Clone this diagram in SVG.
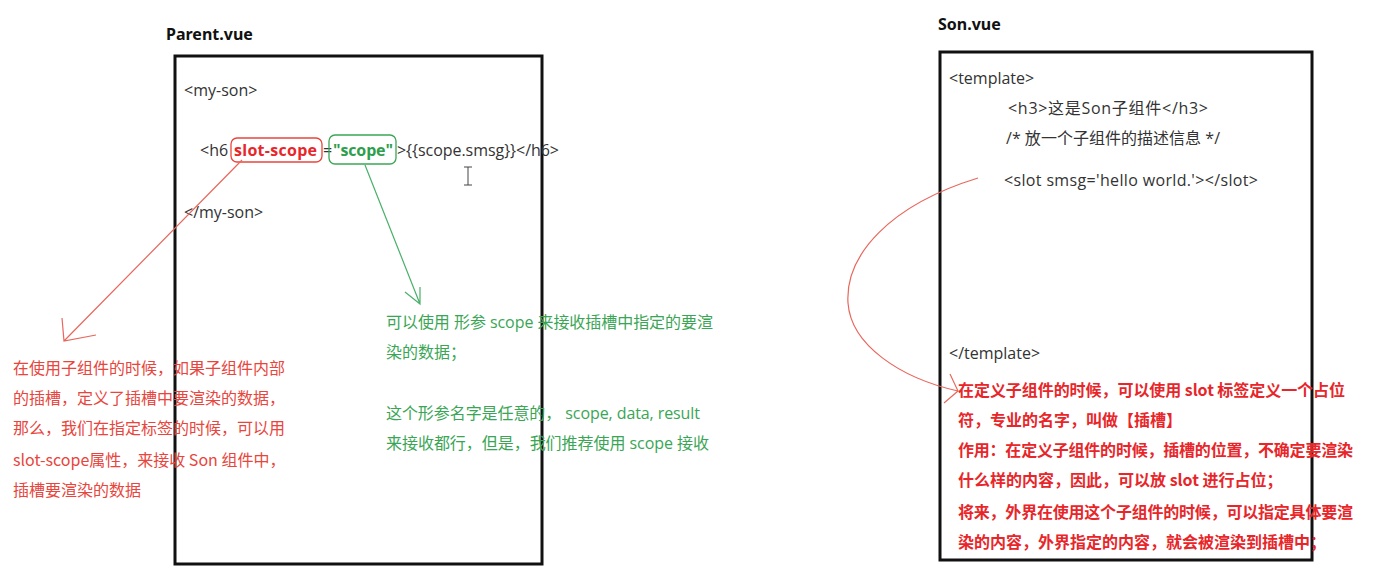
<svg xmlns="http://www.w3.org/2000/svg" width="1374" height="574" viewBox="0 0 1374 574">
<style>
.t{font-family:"Open Sans","Noto Sans","Noto Sans CJK SC",sans-serif;font-size:16px;fill:#333}
.h{font-family:"Noto Sans","Open Sans",sans-serif;font-size:16px;font-weight:bold;fill:#111}
.box{fill:none;stroke:#111;stroke-width:3}
.rn{font-family:"Noto Sans CJK SC",sans-serif;font-size:16px;fill:#e8453c}
.gn{font-family:"Open Sans","Noto Sans CJK SC",sans-serif;font-size:16px;fill:#3aa655}
.rb{font-family:"Noto Sans CJK SC",sans-serif;font-size:16px;font-weight:bold;fill:#e8262a}
.rl{fill:none;stroke:#e8675c;stroke-width:1.2}
.gl{fill:none;stroke:#49b06a;stroke-width:1.2}
</style>
<rect width="1374" height="574" fill="#fff"/>
<g id="parent-file">
<text class="h" x="166" y="40">Parent.vue</text>
<rect class="box" x="175" y="56" width="367" height="508"/>
<text class="t" x="184" y="96">&lt;my-son&gt;</text>
<text class="t" x="200" y="156">&lt;h6</text>
<rect x="231" y="138" width="91" height="24" rx="6" fill="none" stroke="#e8453c" stroke-width="1.3"/>
<text class="t" x="234" y="156" style="fill:#e8262a;font-weight:bold" textLength="83">slot-scope</text>
<text class="t" x="323" y="156">=</text>
<rect x="329" y="135" width="67" height="29" rx="6" fill="none" stroke="#3aa655" stroke-width="1.3"/>
<text class="t" x="333" y="156" style="fill:#2e9e4c;font-weight:bold" textLength="60">"scope"</text>
<text class="t" x="397" y="156" textLength="162">&gt;{{scope.smsg}}&lt;/h6&gt;</text>
<text class="t" x="184" y="218">&lt;/my-son&gt;</text>
</g>
<g id="son-file">
<text class="h" x="938" y="30">Son.vue</text>
<rect class="box" x="940" y="52" width="372" height="508"/>
<text class="t" x="949" y="84">&lt;template&gt;</text>
<text class="t" x="1008" y="114" textLength="200">&lt;h3&gt;这是Son子组件&lt;/h3&gt;</text>
<text class="t" x="1006" y="144" textLength="214">/* 放一个子组件的描述信息 */</text>
<text class="t" x="1004" y="186" textLength="254">&lt;slot smsg='hello world.'&gt;&lt;/slot&gt;</text>
<text class="t" x="949" y="359">&lt;/template&gt;</text>
</g>
<g id="note-slot-scope">
<text class="rn" x="13" y="374">在使用子组件的时候，如果子组件内部</text>
<text class="rn" x="13" y="404">的插槽，定义了插槽中要渲染的数据，</text>
<text class="rn" x="13" y="434">那么，我们在指定标签的时候，可以用</text>
<text class="rn" x="13" y="466">slot-scope属性，来接收 Son 组件中，</text>
<text class="rn" x="13" y="496">插槽要渲染的数据</text>
</g>
<g id="note-scope">
<text class="gn" x="386" y="328" textLength="327">可以使用 形参 scope 来接收插槽中指定的要渲</text>
<text class="gn" x="386" y="358">染的数据；</text>
<text class="gn" x="386" y="419" textLength="314">这个形参名字是任意的， scope, data, result</text>
<text class="gn" x="386" y="449" textLength="323">来接收都行，但是，我们推荐使用 scope 接收</text>
</g>
<g id="note-slot">
<text class="rb" x="958" y="396" textLength="387">在定义子组件的时候，可以使用 slot 标签定义一个占位</text>
<text class="rb" x="958" y="426">符，专业的名字，叫做【插槽】</text>
<text class="rb" x="958" y="456" textLength="395">作用：在定义子组件的时候，插槽的位置，不确定要渲染</text>
<text class="rb" x="958" y="486">什么样的内容，因此，可以放 slot 进行占位；</text>
<text class="rb" x="958" y="518" textLength="395">将来，外界在使用这个子组件的时候，可以指定具体要渲</text>
<text class="rb" x="958" y="548">染的内容，外界指定的内容，就会被渲染到插槽中；</text>
</g>
<g id="connectors">
<path class="rl" d="M242,160 L64,341 M62,318 L64,341 L96,335"/>
<path class="gl" d="M365,165 L420,304 M405,292 L420,304 L420,287"/>
<path class="rl" d="M978,178 C890,205 845,255 848,303 C851,345 900,378 958,391 M950,374 L958,391 L944,403"/>
</g>
<g id="cursor">
<path d="M464,167 H472 M468,167 V185 M464,185 H472" fill="none" stroke="#444" stroke-width="1"/>
</g>
</svg>
